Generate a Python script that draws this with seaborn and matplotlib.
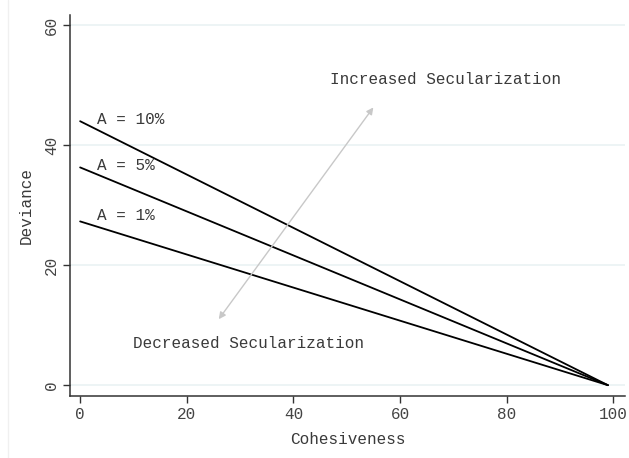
import matplotlib
matplotlib.use('Agg')
import matplotlib.pyplot as plt
import seaborn as sns
import pandas as pd
from matplotlib.lines import Line2D

# ── Veriler ──
etiketler = ['A = 10%', 'A = 5%', 'A = 1%']
x_degerleri = [0, 99]
y_baslangic = [44.0, 36.3, 27.3]
y_bitis = [0.0, 0.0, 0.0]
etiket_y = [44.3, 36.7, 28.3]
x_ticks = [0, 20, 40, 60, 80, 100]
y_ticks = [0, 20, 40, 60]

ok_baslangic = (26, 11)
ok_bitis = (55, 46.3)

sns.set_theme(style='white')
plt.rcParams['font.family'] = ['Liberation Mono', 'DejaVu Sans Mono']

satirlar = []
for etiket, y0, y1 in zip(etiketler, y_baslangic, y_bitis):
    satirlar.append({'Cohesiveness': x_degerleri[0], 'Deviance': y0, 'A': etiket})
    satirlar.append({'Cohesiveness': x_degerleri[1], 'Deviance': y1, 'A': etiket})
df = pd.DataFrame(satirlar)

fig = plt.figure(figsize=(6.29, 4.58), dpi=100)
ax = fig.add_axes([0.1113, 0.1354, 0.8823, 0.8318])

for y in y_ticks:
    ax.axhline(y, color='#eaf2f3', lw=1.2, zorder=0)

sns.lineplot(data=df, x='Cohesiveness', y='Deviance', hue='A',
             palette=['black'] * 3, legend=False, lw=1.3, ax=ax)

for etiket, y in zip(etiketler, etiket_y):
    ax.text(3.2, y, etiket, fontsize=11.5, color='#3a3a3a', va='center', ha='left')

ax.annotate('', xy=ok_bitis, xytext=ok_baslangic,
            arrowprops=dict(arrowstyle='<|-|>', color='#c8c8c8', lw=1,
                            mutation_scale=10, shrinkA=0, shrinkB=0))
ax.text(68.5, 51, 'Increased Secularization', fontsize=11.5, color='#3a3a3a',
        ha='center', va='center')
ax.text(31.5, 7, 'Decreased Secularization', fontsize=11.5, color='#3a3a3a',
        ha='center', va='center')

ax.set_xlim(-1.9, 102.2)
ax.set_ylim(-1.8, 61.7)
ax.set_xticks(x_ticks)
ax.set_yticks(y_ticks)
ax.set_yticklabels([str(v) for v in y_ticks], rotation=90, va='center')
ax.tick_params(axis='both', direction='out', length=5, width=1, color='#333333',
               labelsize=11.5, labelcolor='#444444', bottom=True, left=True, pad=3)
ax.set_xlabel('Cohesiveness', fontsize=11.5, color='#3a3a3a', labelpad=7)
ax.set_ylabel('Deviance', fontsize=11.5, color='#3a3a3a', labelpad=7)

for taraf in ['top', 'right']:
    ax.spines[taraf].set_visible(False)
for taraf in ['left', 'bottom']:
    ax.spines[taraf].set_color('#333333')
    ax.spines[taraf].set_linewidth(1.1)

fig.add_artist(Line2D([8 / 629, 8 / 629], [0, 1], color='#f0f0f0', lw=1,
                      transform=fig.transFigure))

fig.savefig('out.png', dpi=100)
